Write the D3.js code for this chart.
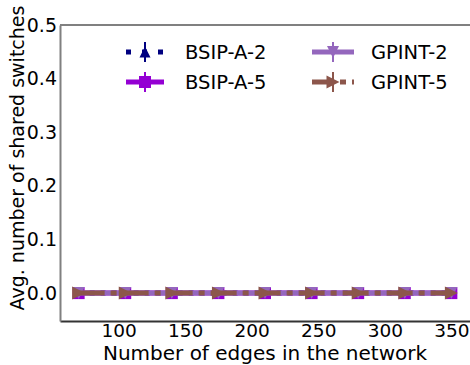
<!DOCTYPE html>
<html><head><meta charset="utf-8">
<script src="https://cdn.jsdelivr.net/npm/d3@7"></script>
<style>body{margin:0;background:#fff}svg{display:block;font-family:"DejaVu Sans",sans-serif}</style>
</head><body>
<svg id="c" width="470" height="365"></svg>
<script>
const edges = [70, 105, 140, 175, 210, 245, 280, 315, 350];
const bsipA2 = [0, 0, 0, 0, 0, 0, 0, 0, 0];
const bsipA5 = [0, 0, 0, 0, 0, 0, 0, 0, 0];
const gpint2 = [0, 0, 0, 0, 0, 0, 0, 0, 0];
const gpint5 = [0, 0, 0, 0, 0, 0, 0, 0, 0];
const xTicks = [100, 150, 200, 250, 300, 350];
const yTicks = [0.0, 0.1, 0.2, 0.3, 0.4, 0.5];
const seriesNames = ["BSIP-A-2", "BSIP-A-5", "GPINT-2", "GPINT-5"];

const series = [
  {name: seriesNames[0], values: bsipA2, color: "#000080", lw: 5, dash: "5,6", cap: "butt", marker: "triangle", msize: 11},
  {name: seriesNames[1], values: bsipA5, color: "#9400d3", lw: 5, dash: null, cap: "butt", marker: "square", msize: 12},
  {name: seriesNames[2], values: gpint2, color: "#9467bd", lw: 5, dash: null, cap: "butt", marker: "tridown", msize: 12},
  {name: seriesNames[3], values: gpint5, color: "#8c564b", lw: 5, dash: "26,6,6,6", cap: "butt", marker: "triright", msize: 13}
];

const svg = d3.select("#c");
const L = 60, R = 470, T = 25, B = 321;
const x = d3.scaleLinear().domain([56, 364]).range([L, R]);
const y = d3.scaleLinear().domain([-0.052, 0.5]).range([B, T]);

// top spine
svg.append("line").attr("x1", L).attr("x2", R).attr("y1", T).attr("y2", T).attr("stroke", "#808080").attr("stroke-width", 2);

// axes
const xAxis = svg.append("g").attr("transform", `translate(0,${B})`)
  .call(d3.axisBottom(x).tickValues(xTicks).tickSize(0).tickPadding(3).tickFormat(d3.format("d")));
xAxis.select(".domain").attr("stroke", "#333").attr("stroke-width", 2);
xAxis.selectAll("text").attr("font-size", 18.5).attr("fill", "#000").attr("font-family", "DejaVu Sans");

const yAxis = svg.append("g").attr("transform", `translate(${L},0)`)
  .call(d3.axisLeft(y).tickValues(yTicks).tickSize(0).tickPadding(3).tickFormat(d3.format(".1f")));
yAxis.select(".domain").attr("stroke", "#808080").attr("stroke-width", 2);
yAxis.selectAll("text").attr("font-size", 19).attr("fill", "#000").attr("font-family", "DejaVu Sans");

// labels
svg.append("text").attr("x", 265).attr("y", 359.5).attr("text-anchor", "middle")
  .attr("font-size", 20).attr("fill", "#000").text("Number of edges in the network");
svg.append("text").attr("transform", "translate(24,158) rotate(-90)").attr("text-anchor", "middle")
  .attr("font-size", 19).attr("fill", "#000").text("Avg. number of shared switches");

function markerPath(type, s) {
  const h = s / 2;
  if (type === "square") return `M${-h},${-h}H${h}V${h}H${-h}Z`;
  if (type === "triangle") return `M0,${-h}L${h},${h}L${-h},${h}Z`;
  if (type === "tridown") return `M${-h},${-h}L${h},${-h}L0,${h}Z`;
  if (type === "triright") return `M${-h},${-h}L${h},0L${-h},${h}Z`;
}

const plot = svg.append("g");
series.forEach(s => {
  const line = d3.line().x((d, i) => x(edges[i])).y(d => y(d));
  const p = plot.append("path").datum(s.values).attr("d", line)
    .attr("fill", "none").attr("stroke", s.color).attr("stroke-width", s.lw).attr("stroke-linecap", s.cap);
  if (s.dash) p.attr("stroke-dasharray", s.dash);
  plot.selectAll(null).data(s.values).enter().append("path")
    .attr("transform", (d, i) => `translate(${x(edges[i])},${y(d)})`)
    .attr("d", markerPath(s.marker, s.msize)).attr("fill", s.color);
});

// legend
const legPos = [
  {x0: 126, x1: 164, ty: 52, tx: 185},
  {x0: 126, x1: 164, ty: 82, tx: 185},
  {x0: 312, x1: 354, ty: 52, tx: 371},
  {x0: 312, x1: 354, ty: 82, tx: 371}
];
series.forEach((s, i) => {
  const lp = legPos[i];
  const g = svg.append("g");
  const cx = (lp.x0 + lp.x1) / 2;
  const ln = g.append("line").attr("x1", lp.x0).attr("x2", lp.x1).attr("y1", lp.ty).attr("y2", lp.ty)
    .attr("stroke", s.color).attr("stroke-width", s.lw);
  if (s.dash) ln.attr("stroke-dasharray", i === 0 ? "5,11" : "22,6,6,6");
  g.append("line").attr("x1", cx).attr("x2", cx).attr("y1", lp.ty - 10).attr("y2", lp.ty + 10)
    .attr("stroke", s.color).attr("stroke-width", 2);
  g.append("path").attr("transform", `translate(${cx},${lp.ty})`).attr("d", markerPath(s.marker, s.msize)).attr("fill", s.color);
  g.append("text").attr("x", lp.tx).attr("y", lp.ty + 7).attr("font-size", 19.5).attr("fill", "#000").text(s.name);
});
</script>
</body></html>
